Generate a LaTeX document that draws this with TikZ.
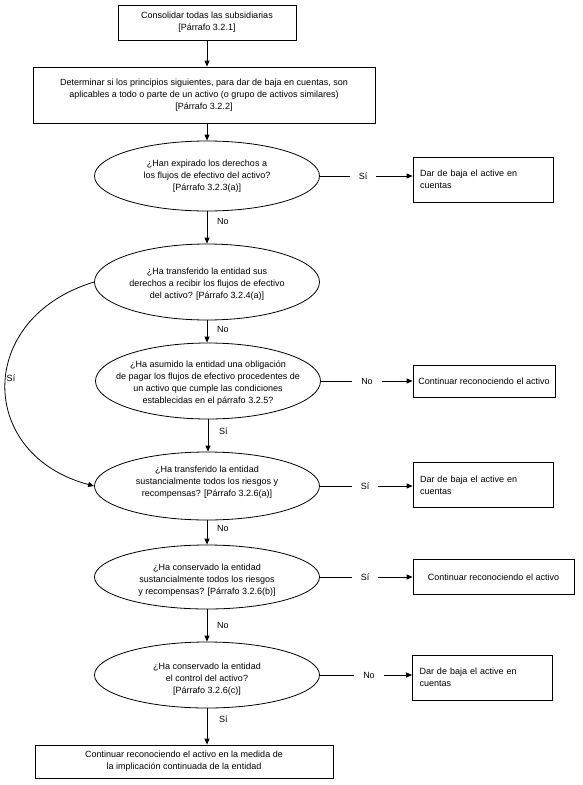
\documentclass[tikz,border=0pt]{standalone}
\usepackage{fontspec}
\setmainfont{Liberation Sans}
\usetikzlibrary{shapes.geometric,arrows.meta}
\begin{document}
\begin{tikzpicture}[x=1pt,y=-1pt,
  font=\fontsize{9pt}{12pt}\selectfont,
  every node/.style={inner sep=0pt},
  pbox/.style={draw, line width=0.8pt, align=center},
  qell/.style={draw, ellipse, line width=0.8pt, minimum width=225pt},
  qtxt/.style={align=center},
  sbox/.style={draw, line width=0.8pt, align=left, text width=126pt, inner xsep=7pt, minimum height=45pt},
  cbox/.style={draw, line width=0.8pt, align=center},
  arr/.style={-{Triangle[length=6pt,width=5pt]}, line width=0.8pt},
  lin/.style={line width=0.8pt},
  hlab/.style={inner xsep=9pt},
  vlab/.style={anchor=west}
]
\useasboundingbox (0,0) rectangle (583,785);

% top boxes
\node[pbox, minimum width=178pt, minimum height=35pt] (b1) at (207,22.5)
  {Consolidar todas las subsidiarias\\{[Párrafo 3.2.1]}};
\node[pbox, minimum width=342pt, minimum height=56pt] (b2) at (204,95)
  {Determinar si los principios siguientes, para dar de baja en cuentas, son\\
   aplicables a todo o parte de un activo (o grupo de activos similares)\\
   {[Párrafo 3.2.2]}};

% ellipses
\node[qell, minimum height=70pt] (e1) at (207,176) {};
\node[qtxt] (t1) at (207,176) {¿Han expirado los derechos a\\los flujos de efectivo del activo?\\{[Párrafo 3.2.3(a)]}};

\node[qell, minimum height=76pt] (e2) at (207,282) {};
\node[qtxt] (t2) at (207,284) {¿Ha transferido la entidad sus\\derechos a recibir los flujos de efectivo\\del activo? [Párrafo 3.2.4(a)]};

\node[qell, minimum height=76pt] (e3) at (208,381) {};
\node[qtxt] (t3) at (208,383) {¿Ha asumido la entidad una obligación\\de pagar los flujos de efectivo procedentes de\\un activo que cumple las condiciones\\establecidas en el párrafo 3.2.5?};

\node[qell, minimum height=68pt] (e4) at (207,486) {};
\node[qtxt] (t4) at (207,482) {¿Ha transferido la entidad\\sustancialmente todos los riesgos y\\recompensas? [Párrafo 3.2.6(a)]};

\node[qell, minimum height=64pt] (e5) at (207,577) {};
\node[qtxt] (t5) at (207,580) {¿Ha conservado la entidad\\sustancialmente todos los riesgos\\y recompensas? [Párrafo 3.2.6(b)]};

\node[qell, minimum height=66pt] (e6) at (207,675) {};
\node[qtxt] (t6) at (207,679) {¿Ha conservado la entidad\\el control del activo?\\{[Párrafo 3.2.6(c)]}};

% bottom box
\node[pbox, minimum width=298pt, minimum height=33pt] (b3) at (184,761.5)
  {Continuar reconociendo el activo en la medida de\\la implicación continuada de la entidad};

% right boxes
\node[sbox] (r1) at (483,179.5) {Dar de baja el active en\\cuentas};
\node[cbox, minimum width=142pt, minimum height=32pt] (r2) at (484,381.5) {Continuar reconociendo el activo};
\node[sbox] (r3) at (483,485) {Dar de baja el active en\\cuentas};
\node[cbox, minimum width=161pt, minimum height=35pt] (r4) at (493.5,577) {Continuar reconociendo el activo};
\node[sbox] (r5) at (482.5,677.5) {Dar de baja el active en\\cuentas};

% vertical connectors
\draw[arr] (b1.south) -- (b1.south |- b2.north);
\draw[arr] (e1.north |- b2.south) -- (e1.north);
\draw[arr] (e1.south) -- (e2.north);
\draw[arr] (e2.south) -- (e2.south |- e3.north);
\draw[arr] (e3.south) -- (e3.south |- e4.north);
\draw[arr] (e4.south) -- (e5.north);
\draw[arr] (e5.south) -- (e6.north);
\draw[arr] (e6.south) -- (e6.south |- b3.north);

\node[vlab] (n1) at (217,221) {No};
\node[vlab] (n2) at (217,329) {No};
\node[vlab] (n3) at (219,431) {Sí};
\node[vlab] (n4) at (217,528) {No};
\node[vlab] (n5) at (217,625) {No};
\node[vlab] (n6) at (219,719) {Sí};

% horizontal connectors
\node[hlab] (h1) at (363,176) {Sí};
\draw[lin] (e1.east) -- (h1.west);
\draw[arr] (h1.east) -- (h1.east -| r1.west);

\node[hlab] (h3) at (367,381) {No};
\draw[lin] (e3.east) -- (h3.west);
\draw[arr] (h3.east) -- (h3.east -| r2.west);

\node[hlab] (h4) at (365,486) {Sí};
\draw[lin] (e4.east) -- (h4.west);
\draw[arr] (h4.east) -- (h4.east -| r3.west);

\node[hlab] (h5) at (365,577) {Sí};
\draw[lin] (e5.east) -- (h5.west);
\draw[arr] (h5.east) -- (h5.east -| r4.west);

\node[hlab] (h6) at (369,675) {No};
\draw[lin] (e6.east) -- (h6.west);
\draw[arr] (h6.east) -- (h6.east -| r5.west);

% loop from e2 to e4
\draw[arr] (e2.west) .. controls (-25,318) and (-23,455) .. (e4.west);
\node (sl) at (11,378) {Sí};
\end{tikzpicture}
\end{document}
